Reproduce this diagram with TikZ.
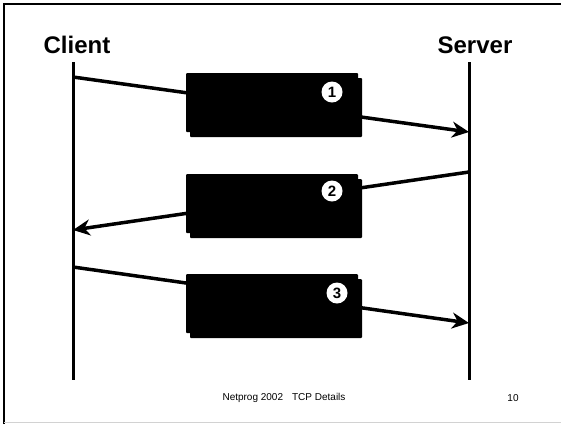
\documentclass[tikz,border=0pt]{standalone}
\usepackage{fontspec}
\setmainfont{Liberation Sans}
\usetikzlibrary{shadows,arrows.meta}

\tikzstyle{lifeline} = [line width=3pt]
\tikzstyle{msg} = [line width=3.5pt, -{Stealth[length=17pt,width=16pt]}]
\tikzstyle{msgbox} = [rectangle, rounded corners=1pt, minimum width=172pt, minimum height=59pt, fill=black, drop shadow={shadow xshift=4pt, shadow yshift=-5pt, opacity=1, fill=black}]
\tikzstyle{num} = [circle, fill=white, inner sep=0pt, minimum size=21pt, font=\bfseries\fontsize{15}{15}\selectfont]
\tikzstyle{party} = [font=\bfseries\fontsize{24}{28}\selectfont]
\tikzstyle{footer} = [font=\fontsize{10}{12}\selectfont]

\begin{document}
\begin{tikzpicture}[x=1pt, y=-1pt]
\useasboundingbox (0,0) rectangle (561,424);
% slide frame
\draw[line width=2.5pt] (4,424) -- (4,4) -- (561,4);
\draw[gray!35] (4,422) -- (561,422);

\node (client) [party] at (77,45) {Client};
\node (server) [party] at (475,45) {Server};

\coordinate (ctop) at (73,62);
\coordinate (cbot) at (73,380);
\coordinate (stop) at (469,62);
\coordinate (sbot) at (469,380);
\draw[lifeline] (ctop) -- (cbot);
\draw[lifeline] (stop) -- (sbot);

\coordinate (c1) at (73,77);
\coordinate (s1) at (469,132);
\coordinate (s2) at (469,172);
\coordinate (c2) at (73,230);
\coordinate (c3) at (73,267);
\coordinate (s3) at (469,323);
\draw[msg] (c1) -- (s1);
\draw[msg] (s2) -- (c2);
\draw[msg] (c3) -- (s3);

\node (seg1) [msgbox] at (272,102.5) {};
\node (seg2) [msgbox] at (272,203.5) {};
\node (seg3) [msgbox] at (272,303.5) {};
\node (n1) [num] at (332,92) {1};
\node (n2) [num] at (332,191) {2};
\node (n3) [num] at (337,293) {3};

\node (course) [footer] at (284,398) {Netprog 2002\hspace{9pt}TCP Details};
\node (page) [footer] at (513,398) {10};
\end{tikzpicture}
\end{document}
